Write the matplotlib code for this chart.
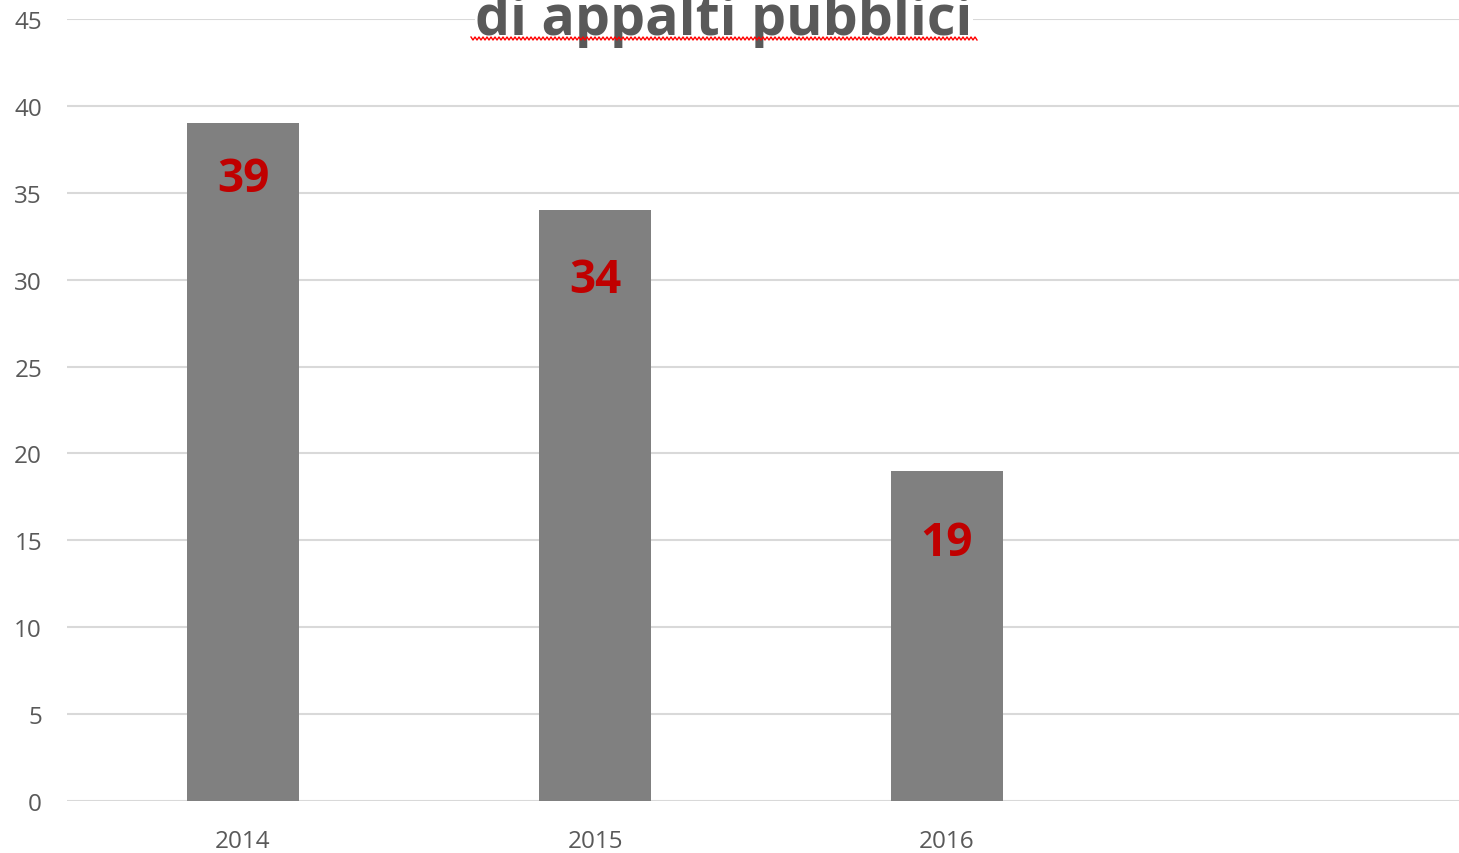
import matplotlib.pyplot as plt
import numpy as np

years = ['2014', '2015', '2016', '']
values = [39, 34, 19]
title_text = 'di appalti pubblici'

# labels were nudged by hand in the original, so keep the drop per bar
label_drop = [3.15, 4.0, 4.15]

W, H = 1459, 854
fig = plt.figure(figsize=(W / 100, H / 100), dpi=100)
ax = fig.add_axes([67 / W, 52 / H, 1 - 67 / W, (802 - 20) / H])

grey_txt = '#595959'
x = np.arange(len(years))
ax.bar(x[:len(values)], values, width=0.318, color='#808080', zorder=2)

for xi, v, d in zip(x, values, label_drop):
    ax.text(xi, v - d, str(v), ha='center', va='center', color='#c00000',
            fontsize=33, fontweight='bold', family='Open Sans', zorder=3)

ax.set_ylim(0, 45)
ax.set_xlim(-0.5, -0.5 + (W - 67) / 352)
ax.set_yticks(range(0, 46, 5))
ax.set_xticks(x)
ax.set_xticklabels(years)
ax.yaxis.grid(True, color='#d9d9d9', linewidth=1.5, zorder=0)
ax.set_axisbelow(True)
for s in ax.spines.values():
    s.set_visible(False)
ax.tick_params(length=0, colors=grey_txt, labelsize=17.5)
ax.tick_params(axis='y', pad=18)
ax.tick_params(axis='x', pad=20)
for lab in ax.get_xticklabels() + ax.get_yticklabels():
    lab.set_family('Open Sans')

# title, clipped at the top of the picture like the original
fig.text(724 / W, 1 - 35 / H, title_text, ha='center', va='baseline',
         fontsize=40, fontweight='bold', color=grey_txt, family='Open Sans',
         bbox=dict(facecolor='white', edgecolor='none', pad=0), zorder=5)

# spell-check squiggle under the title
xs = np.arange(471, 978, 2.0)
ys = 39.5 + np.where(np.arange(len(xs)) % 2 == 0, -1.5, 1.5)
fig.add_artist(plt.Line2D(xs / W, 1 - ys / H, color='#ff0000', linewidth=1.0,
                          transform=fig.transFigure, zorder=6))

fig.savefig('out.png', dpi=100)
